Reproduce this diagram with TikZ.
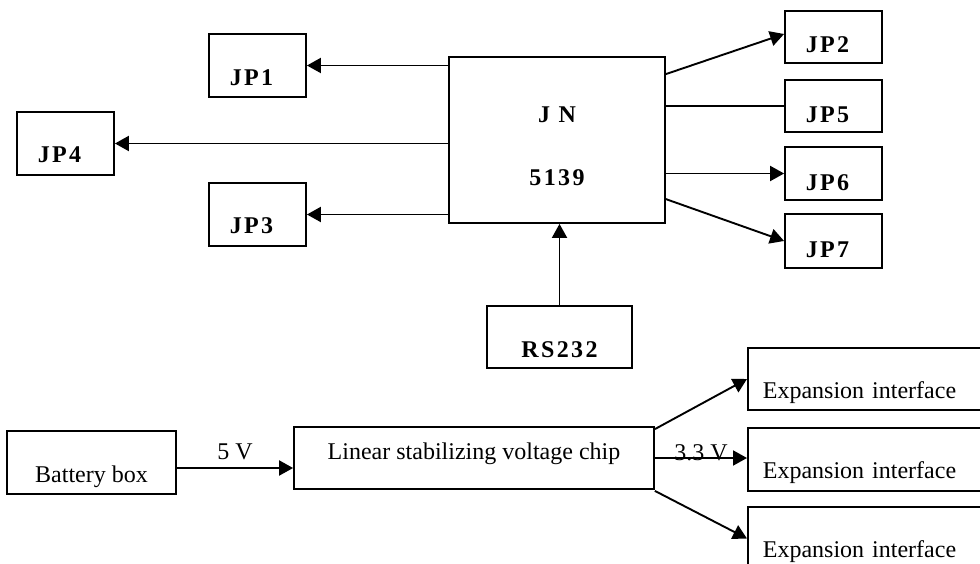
\documentclass[tikz,border=0pt]{standalone}
\usepackage{fontspec}
\setmainfont{Liberation Serif}
\newfontfamily\boldls[LetterSpace=10]{Liberation Serif}
\usetikzlibrary{arrows.meta,calc}
\begin{document}
\begin{tikzpicture}[x=1pt,y=-1pt,
  box/.style={draw,line width=1.8pt,inner sep=0pt,font=\fontsize{24}{28.8}\selectfont},
  jpbox/.style={box,minimum width=97pt,font=\fontsize{24}{28.8}\selectfont\boldls\bfseries,text depth=0pt},
  exbox/.style={box,anchor=west,text width=225pt,align=left,inner xsep=15pt,inner ysep=0pt,text depth=0pt},
  arr/.style={line width=1.9pt,-{Triangle[length=14pt,width=15pt]}},
  con/.style={line width=1.9pt},
  lbl/.style={font=\fontsize{24}{28.8}\selectfont,inner sep=0pt,anchor=base},
]
\clip (0,0) rectangle (980,564);
\fill[white] (0,0) rectangle (980,564);
% top part
\node[box,minimum width=216pt,minimum height=166pt,text height=20pt,text depth=54pt,
      font=\fontsize{24}{28.8}\selectfont\boldls\bfseries] (jn) at (557,140)
  {\begin{tabular}[t]{@{}c@{}}J N\\[34.2pt]5139\end{tabular}};
\node[jpbox,minimum height=63pt,text height=40pt] (jp1) at (257.5,65.5) {JP1\kern12pt};
\node[jpbox,minimum height=63pt,text height=39pt] (jp4) at (65.5,143.5) {JP4\kern12pt};
\node[jpbox,minimum height=63pt,text height=39pt] (jp3) at (257.5,214.5) {JP3\kern12pt};
\node[jpbox,minimum height=52pt,text height=32pt] (jp2) at (833.5,37) {JP2\kern12pt};
\node[jpbox,minimum height=52pt,text height=34pt] (jp5) at (833.5,106) {JP5\kern12pt};
\node[jpbox,minimum height=53pt,text height=34pt] (jp6) at (833.5,173.5) {JP6\kern12pt};
\node[jpbox,minimum height=54pt,text height=34pt] (jp7) at (833.5,241) {JP7\kern12pt};
\node[jpbox,minimum width=145pt,minimum height=62pt,text height=40pt] (rs) at (559.5,337) {RS232};
\draw[arr] (jn.west |- jp1.east) -- (jp1.east);
\draw[arr] (jn.west |- jp4.east) -- (jp4.east);
\draw[arr] (jn.west |- jp3.east) -- (jp3.east);
\draw[arr] ($(jn.north east)+(0,18)$) -- ([yshift=3pt]jp2.west);
\draw[con] (jn.east |- jp5.west) -- (jp5.west);
\draw[arr] (jn.east |- jp6.west) -- (jp6.west);
\draw[arr] ($(jn.north east)+(0,143)$) -- (jp7.west);
\draw[arr] (rs.north) -- (rs.north |- jn.south);
% bottom part
\node[box,minimum width=169pt,minimum height=63pt,text height=39pt,text depth=0pt] (bat) at (91.5,462.5) {Battery box};
\node[box,minimum width=360pt,minimum height=62pt,text height=12pt,text depth=10pt] (lin) at (474,458) {Linear stabilizing voltage chip};
\node[exbox,minimum height=62pt,text height=38pt] (ex1) at (747,379) {Expansion interface};
\node[exbox,minimum height=63pt,text height=37pt] (ex2) at (747,459.5) {Expansion interface};
\node[exbox,minimum height=63pt,text height=37pt] (ex3) at (747,538.5) {Expansion interface};
\coordinate (v5s) at ([yshift=-5.5pt]bat.east);
\draw[arr] (v5s) -- (v5s -| lin.west);
\node[lbl,yshift=9pt] (l5v) at ($(v5s)!0.5!(v5s -| lin.west)$) {5 V};
\draw[arr] ([yshift=-3pt]lin.north east) -- (ex1.west);
\draw[arr] (lin.east) -- (lin.east -| ex2.west);
\node[lbl,yshift=-2pt] (l33v) at ($(lin.east)!0.5!(lin.east -| ex2.west)$) {3.3 V};
\draw[arr] ([yshift=-1pt]lin.south east) -- (ex3.west);
\end{tikzpicture}
\end{document}
